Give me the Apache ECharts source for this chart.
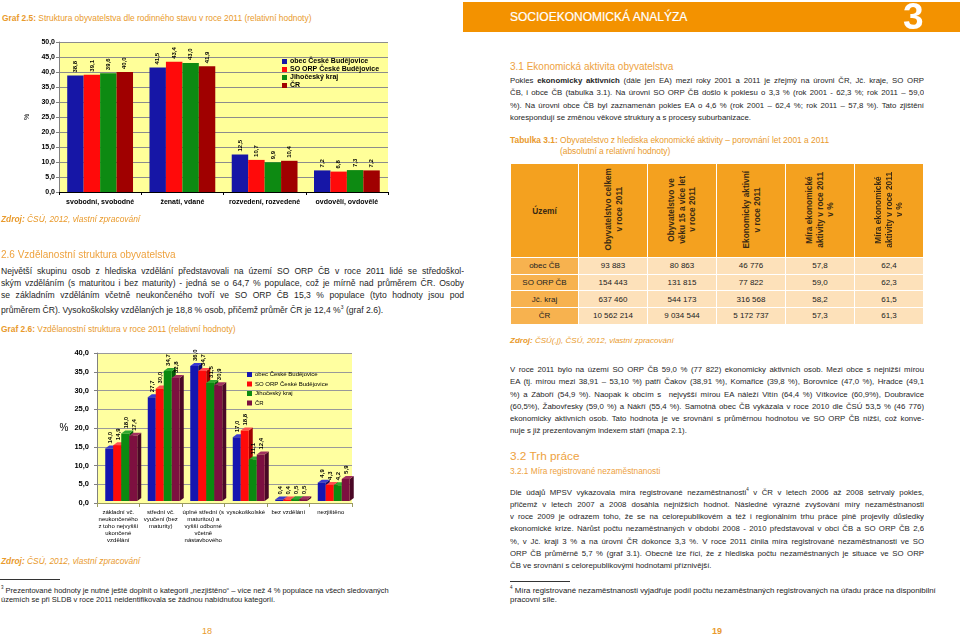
<!DOCTYPE html>
<html><head><meta charset="utf-8">
<script src="https://cdn.jsdelivr.net/npm/echarts@6/dist/echarts.min.js"></script>
<style>
html,body{margin:0;padding:0;background:#fff}
#page{position:relative;width:960px;height:636px;overflow:hidden;font-family:"Liberation Sans",Arial,sans-serif;color:#1e1e1e}
.abs{position:absolute}
.cap{position:absolute;font-size:8.4px;color:#e99a2c;white-space:nowrap;line-height:10px}
.src{position:absolute;font-size:8.4px;color:#e99a2c;font-style:italic;white-space:nowrap;line-height:10px}
.h2{position:absolute;color:#eea23e;white-space:nowrap}
.para div{text-align:justify;text-align-last:justify;white-space:normal;overflow:hidden}
.para div.last{text-align-last:left}
.fn{position:absolute;font-size:7.5px;line-height:9.5px;white-space:nowrap;color:#222}
.rule{position:absolute;height:1px;background:#333}
.pg{position:absolute;color:#e99a2c;font-size:9px}
table{border-collapse:collapse;table-layout:fixed}
td,th{border:1px solid #fff;padding:0;text-align:center;font-size:8px;color:#222}
th{background:#f4a11f;font-weight:bold;color:#3a2a14}
td.rg{background:#f7b24f}
td.val{background:#fde1ba}
.rot{writing-mode:vertical-rl;transform:rotate(180deg);display:inline-block;font-size:8.3px;line-height:10.5px;white-space:nowrap}
</style></head>
<body><div id="page">
<!-- left page -->
<div class="cap" style="left:2px;top:13px"><b>Graf 2.5:</b> Struktura obyvatelstva dle rodinného stavu v roce 2011 (relativní hodnoty)</div>
<div id="c1" class="abs" style="left:0;top:30px;width:470px;height:200px"></div>
<div class="src" style="left:1px;top:214px"><b>Zdroj:</b> ČSÚ, 2012, vlastní zpracování</div>
<div class="h2" style="left:1px;top:248px;font-size:10px;line-height:13px">2.6 Vzdělanostní struktura obyvatelstva</div>
<div class="para abs" style="left:1px;top:265px;width:463px;font-size:8.6px;line-height:12px">
<div>Největší skupinu osob z hlediska vzdělání představovali na území SO ORP ČB v roce 2011 lidé se středoškol-</div>
<div>ským vzděláním (s maturitou i bez maturity) - jedná se o 64,7 % populace, což je mírně nad průměrem ČR. Osoby</div>
<div>se základním vzděláním včetně neukončeného tvoří ve SO ORP ČB 15,3 % populace (tyto hodnoty jsou pod</div>
<div class="last">průměrem ČR). Vysokoškolsky vzdělaných je 18,8 % osob, přičemž průměr ČR je 12,4 %<sup style="font-size:5px">3</sup> (graf 2.6).</div>
</div>
<div class="cap" style="left:1px;top:324px"><b>Graf 2.6:</b> Vzdělanostní struktura v roce 2011 (relativní hodnoty)</div>
<div id="c2" class="abs" style="left:0;top:340px;width:470px;height:215px"></div>
<div class="src" style="left:1px;top:556px"><b>Zdroj:</b> ČSÚ, 2012, vlastní zpracování</div>
<div class="rule" style="left:0;top:579px;width:60px"></div>
<div class="fn" style="left:1px;top:583px"><sup style="font-size:4.5px">3</sup> Prezentované hodnoty je nutné ještě doplnit o kategorii „nezjištěno“ – více než 4 % populace na všech sledovaných<br>územích se při SLDB v roce 2011 neidentifikovala se žádnou nabídnutou kategorií.</div>
<div class="pg" style="left:202px;top:626px">18</div>

<!-- right page -->
<div class="abs" style="left:463px;top:2px;width:497px;height:30px;background:#f39200"></div>
<div class="abs" style="left:510px;top:9px;font-size:12px;color:#fff;white-space:nowrap;line-height:16px;-webkit-text-stroke:0.2px #fff">SOCIOEKONOMICKÁ ANALÝZA</div>
<div class="abs" style="left:903px;top:-2px;font-size:37px;font-weight:bold;color:#fff;line-height:38px">3</div>
<div class="h2" style="left:510px;top:60px;font-size:10px;line-height:13px">3.1 Ekonomická aktivita obyvatelstva</div>
<div class="para abs" style="left:510px;top:75px;width:414px;font-size:7.8px;line-height:12.3px">
<div>Pokles <b>ekonomicky aktivních</b> (dále jen EA) mezi roky 2001 a 2011 je zřejmý na úrovni ČR, Jč. kraje, SO ORP</div>
<div>ČB, i obce ČB (tabulka 3.1). Na úrovni SO ORP ČB došlo k poklesu o 3,3 % (rok 2001 - 62,3 %; rok 2011 – 59,0</div>
<div>%). Na úrovni obce ČB byl zaznamenán pokles EA o 4,6 % (rok 2001 – 62,4 %; rok 2011 – 57,8 %). Tato zjištění</div>
<div class="last">korespondují se změnou věkové struktury a s procesy suburbanizace.</div>
</div>
<div class="cap" style="left:510px;top:135px;line-height:11px"><b>Tabulka 3.1:</b> Obyvatelstvo z hlediska ekonomické aktivity – porovnání let 2001 a 2011<br><span style="padding-left:50px">(absolutní a relativní hodnoty)</span></div>
<div id="tbl" class="abs" style="left:510px;top:163px"></div>
<div class="src" style="left:510px;top:336px;font-size:8px"><b>Zdroj:</b> ČSÚ(,j), ČSÚ, 2012, vlastní zpracování</div>
<div class="para abs" style="left:510px;top:364px;width:414px;font-size:7.8px;line-height:12.3px">
<div>V roce 2011 bylo na území SO ORP ČB 59,0 % (77 822) ekonomicky aktivních osob. Mezi obce s nejnižší mírou</div>
<div>EA (tj. mírou mezi 38,91 – 53,10 %) patří Čakov (38,91 %), Komařice (39,8 %), Borovnice (47,0 %), Hradce (49,1</div>
<div>%) a Záboří (54,9 %). Naopak k obcím s&nbsp; nejvyšší mírou EA náleží Vitín (64,4 %) Vítkovice (60,9%), Doubravice</div>
<div>(60,5%), Žabovřesky (59,0 %) a Nákří (55,4 %). Samotná obec ČB vykázala v roce 2010 dle ČSÚ 53,5 % (46 776)</div>
<div>ekonomicky aktivních osob. Tato hodnota je ve srovnání s průměrnou hodnotou ve SO ORP ČB nižší, což konve-</div>
<div class="last">nuje s již prezentovaným indexem stáří (mapa 2.1).</div>
</div>
<div class="h2" style="left:510px;top:449px;font-size:11.8px;line-height:14px">3.2 Trh práce</div>
<div class="h2" style="left:510px;top:466px;font-size:8.3px;line-height:11px">3.2.1 Míra registrované nezaměstnanosti</div>
<div class="para abs" style="left:510px;top:484px;width:414px;font-size:7.8px;line-height:12.3px">
<div>Dle údajů MPSV vykazovala míra registrované nezaměstnanosti<sup style="font-size:4.5px">4</sup> v ČR v letech 2006 až 2008 setrvalý pokles,</div>
<div>přičemž v letech 2007 a 2008 dosáhla nejnižších hodnot. Následné výrazné zvyšování míry nezaměstnanosti</div>
<div>v roce 2009 je odrazem toho, že se na celorepublikovém a též i regionálním trhu práce plně projevily důsledky</div>
<div>ekonomické krize. Nárůst počtu nezaměstnaných v období 2008 - 2010 představoval v obci ČB a SO ORP ČB 2,6</div>
<div>%, v Jč. kraji 3 % a na úrovni ČR dokonce 3,3 %. V roce 2011 činila míra registrované nezaměstnanosti ve SO</div>
<div>ORP ČB průměrně 5,7 % (graf 3.1). Obecně lze říci, že z hlediska počtu nezaměstnaných je situace ve SO ORP</div>
<div class="last">ČB ve srovnání s celorepublikovými hodnotami příznivější.</div>
</div>
<div class="rule" style="left:510px;top:581px;width:60px"></div>
<div class="fn" style="left:510px;top:583px;font-size:7.9px"><sup style="font-size:4.5px">4</sup> Míra registrované nezaměstnanosti vyjadřuje podíl počtu nezaměstnaných registrovaných na úřadu práce na disponibilní<br>pracovní síle.</div>
<div class="pg" style="left:712px;top:626px;font-weight:bold">19</div>
</div>
<script>
// ---------- data ----------
const regionNames = ['obec České Budějovice', 'SO ORP České Budějovice', 'Jihočeský kraj', 'ČR'];

const maritalCategories = ['svobodní, svobodné', 'ženatí, vdané', 'rozvedení, rozvedené', 'ovdovělí, ovdovělé'];
const maritalObec = [38.8, 41.5, 12.5, 7.2];
const maritalOrp  = [39.1, 43.4, 10.7, 6.8];
const maritalKraj = [39.6, 43.0, 9.9, 7.3];
const maritalCr   = [40.0, 41.9, 10.4, 7.2];

const eduCategories = [
  'základní vč.\nneukončeného\nz toho nejvyšší\nukončené\nvzdělání',
  'střední vč.\nvyučení (bez\nmaturity)',
  'úplné střední (s\nmaturitou) a\nvyšší odborné\nvčetně\nnástavbového',
  'vysokoškolské',
  'bez vzdělání',
  'nezjištěno'
];
const eduObec = [14.0, 27.7, 36.0, 17.0, 0.4, 4.9];
const eduOrp  = [14.9, 30.0, 34.7, 18.8, 0.4, 4.3];
const eduKraj = [18.0, 34.7, 31.5, 11.1, 0.5, 4.2];
const eduCr   = [17.4, 32.8, 30.9, 12.4, 0.5, 5.9];

const tableHeaders = ['Území', 'Obyvatelstvo celkem\nv roce 2011', 'Obyvatelstvo ve\nvěku 15 a více let\nv roce 2011', 'Ekonomicky aktivní\nv roce 2011', 'Míra ekonomické\naktivity v roce 2011\nv %', 'Míra ekonomické\naktivity v roce 2011\nv %'];
const tableRegions = ['obec ČB', 'SO ORP ČB', 'Jč. kraj', 'ČR'];
const popTotal2011 = [93883, 154443, 637460, 10562214];
const pop15plus2011 = [80863, 131815, 544173, 9034544];
const econActive2011 = [46776, 77822, 316568, 5172737];
const activityRate2011 = [57.8, 59.0, 58.2, 57.3];
const activityRate2001 = [62.4, 62.3, 61.5, 61.3];

// ---------- helpers ----------
const fmt1 = v => v.toFixed(1).replace('.', ',');
const fmtInt = v => String(v).replace(/\B(?=(\d{3})+(?!\d))/g, ' ');

// ---------- table ----------
(function () {
  const colW = [68, 69, 69, 69, 69, 69];
  let h = '<table style="width:413px"><colgroup>' + colW.map(w => '<col style="width:' + w + 'px">').join('') + '</colgroup>';
  h += '<tr style="height:94px">' + tableHeaders.map((t, i) => i === 0
    ? '<th style="font-size:8.3px">' + t + '</th>'
    : '<th><span class="rot">' + t.split('\n').join('<br>') + '</span></th>').join('') + '</tr>';
  tableRegions.forEach((r, i) => {
    h += '<tr style="height:16.7px"><td class="rg">' + r + '</td><td class="val">' + fmtInt(popTotal2011[i]) + '</td><td class="val">' + fmtInt(pop15plus2011[i]) + '</td><td class="val">' + fmtInt(econActive2011[i]) + '</td><td class="val">' + fmt1(activityRate2011[i]) + '</td><td class="val">' + fmt1(activityRate2001[i]) + '</td></tr>';
  });
  h += '</table>';
  document.getElementById('tbl').innerHTML = h;
})();

// ---------- chart 1 ----------
const c1Colors = ['#1616a6', '#ff0a0a', '#0d8a12', '#a00000'];
const c1 = echarts.init(document.getElementById('c1'), null, { renderer: 'canvas' });
const maritalSeries = [maritalObec, maritalOrp, maritalKraj, maritalCr];
c1.setOption({
  animation: false,
  textStyle: { fontFamily: 'Liberation Sans, Arial, sans-serif' },
  grid: { left: 59, top: 12, width: 329, height: 150, show: true, backgroundColor: '#ffff99', borderWidth: 0 },
  legend: {
    orient: 'vertical', left: 277, top: 23, itemWidth: 5, itemHeight: 5, itemGap: 1,
    icon: 'rect',
    textStyle: { fontSize: 7, fontWeight: 'bold', color: '#000', lineHeight: 7, padding: [0, 0, 0, -2] },
    data: regionNames
  },
  xAxis: {
    type: 'category', data: maritalCategories,
    axisLine: { lineStyle: { color: '#000', width: 1 } },
    axisTick: { show: true, length: 3, lineStyle: { color: '#000' } },
    axisLabel: { fontSize: 7, fontWeight: 'bold', color: '#000', margin: 7, interval: 0 }
  },
  yAxis: {
    type: 'value', min: 0, max: 50, interval: 5,
    name: '%', nameLocation: 'middle', nameGap: 21, nameRotate: 90,
    nameTextStyle: { fontSize: 7, color: '#000' },
    axisLine: { show: true, lineStyle: { color: '#808080' } },
    axisTick: { show: true, length: 3, lineStyle: { color: '#808080' } },
    axisLabel: { fontSize: 7, fontWeight: 'bold', color: '#000', margin: 4, formatter: v => fmt1(v) },
    splitLine: { lineStyle: { color: '#8c8c8c', width: 1 } }
  },
  series: maritalSeries.map((arr, i) => ({
    type: 'bar', name: regionNames[i], data: arr,
    barGap: '0%', barCategoryGap: '20%',
    itemStyle: { color: c1Colors[i] },
    label: {
      show: true, position: 'top', rotate: 90, align: 'left', verticalAlign: 'middle', distance: 3,
      fontSize: 6, fontWeight: 'bold', color: '#000', formatter: p => fmt1(p.value)
    }
  }))
});

// ---------- chart 2 (3-D look bars via custom series) ----------
const c2Front = ['#1515b0', '#ff0a0a', '#0b8a10', '#7d1040'];
const c2Side  = ['#0b0b6a', '#a00000', '#055a08', '#4a0826'];
const c2Top   = ['#3a3ad0', '#ff5050', '#30a830', '#a03060'];
const eduSeries = [eduObec, eduOrp, eduKraj, eduCr];
const c2 = echarts.init(document.getElementById('c2'), null, { renderer: 'canvas' });
function bar3d(idx) {
  return {
    type: 'custom', name: regionNames[idx],
    itemStyle: { color: c2Front[idx] },
    encode: { x: 0, y: 1 },
    data: eduSeries[idx].map((v, i) => [i, v]),
    z: 3,
    renderItem: function (params, api) {
      const c = api.value(0), v = api.value(1);
      const p0 = api.coord([c, 0]);
      const p1 = api.coord([c, v]);
      const bw = 8, d = 4, dy = 3;
      const x = p0[0] - 13 + idx * bw;
      const yb = p0[1] - 2, yt = p1[1] - 2;
      return {
        type: 'group', children: [
          { type: 'polygon', shape: { points: [[x + bw, yt], [x + bw + d, yt - dy], [x + bw + d, yb - dy], [x + bw, yb]] }, style: { fill: c2Side[idx] } },
          { type: 'polygon', shape: { points: [[x, yt], [x + d, yt - dy], [x + bw + d, yt - dy], [x + bw, yt]] }, style: { fill: c2Top[idx] } },
          { type: 'rect', shape: { x: x, y: yt, width: bw, height: Math.max(yb - yt, 0.5) }, style: { fill: c2Front[idx] } },
          { type: 'text', x: x + bw / 2 + 1, y: yt - dy - 2, rotation: Math.PI / 2,
            style: { text: fmt1(v), fontSize: 6, fontWeight: 'bold', fill: '#000', align: 'left', verticalAlign: 'middle', fontFamily: 'Liberation Sans, Arial, sans-serif' } }
        ]
      };
    }
  };
}
c2.setOption({
  animation: false,
  textStyle: { fontFamily: 'Liberation Sans, Arial, sans-serif' },
  grid: { left: 97, top: 13, width: 255, height: 150, show: true, backgroundColor: '#ffffa0', borderWidth: 0 },
  legend: {
    orient: 'vertical', left: 242, top: 26, itemWidth: 5, itemHeight: 5, itemGap: 2.5,
    icon: 'rect',
    textStyle: { fontSize: 6, color: '#000', lineHeight: 7, padding: [0, 0, 0, -2] },
    data: regionNames
  },
  xAxis: {
    type: 'category', data: eduCategories,
    axisLine: { lineStyle: { color: '#9a9a60', width: 1 } },
    axisTick: { show: true, length: 4, lineStyle: { color: '#9a9a60' } },
    axisLabel: { fontSize: 6, color: '#000', margin: 6, lineHeight: 7, interval: 0 }
  },
  yAxis: {
    type: 'value', min: 0, max: 40, interval: 5,
    name: '%', nameLocation: 'middle', nameGap: 22, nameRotate: 0,
    nameTextStyle: { fontSize: 10, color: '#000' },
    axisLine: { show: true, lineStyle: { color: '#808080' } },
    axisTick: { show: true, length: 3, lineStyle: { color: '#808080' } },
    axisLabel: { fontSize: 7.5, fontWeight: 'bold', color: '#000', margin: 8, formatter: v => fmt1(v) },
    splitLine: { lineStyle: { color: '#9a9a9a', width: 1 } }
  },
  series: [0, 1, 2, 3].map(bar3d)
});
</script>
</body></html>
